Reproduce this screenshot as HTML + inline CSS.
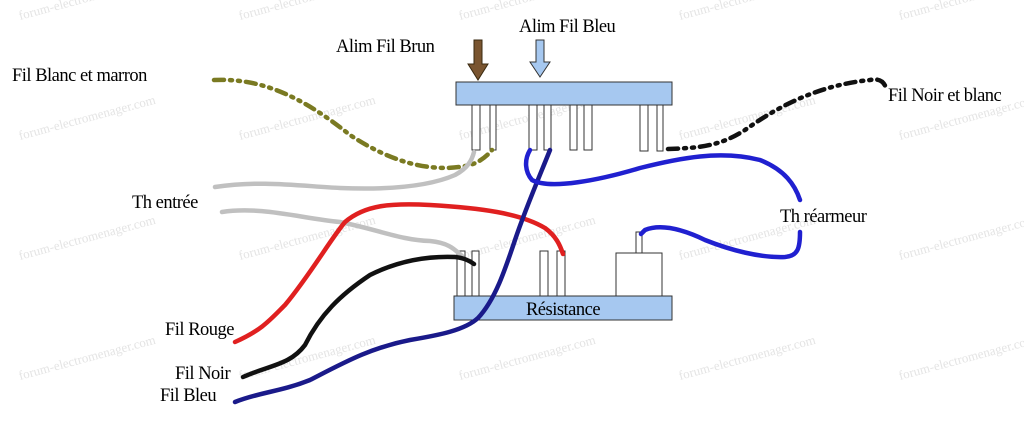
<!DOCTYPE html>
<html><head><meta charset="utf-8"><style>
html,body{margin:0;padding:0;background:#fff;}
svg{display:block}
text{font-family:"Liberation Serif",serif;}
.wm{font-family:"Liberation Sans",sans-serif;font-size:13px;fill:#e4e4e4;}
.lb{font-size:18.5px;fill:#000;letter-spacing:-0.5px}
</style></head><body>
<svg width="1024" height="425" viewBox="0 0 1024 425" xmlns="http://www.w3.org/2000/svg">
<g class="wm">
<text transform="translate(20,20) rotate(-15)">forum-electromenager.com</text>
<text transform="translate(240,20) rotate(-15)">forum-electromenager.com</text>
<text transform="translate(460,20) rotate(-15)">forum-electromenager.com</text>
<text transform="translate(680,20) rotate(-15)">forum-electromenager.com</text>
<text transform="translate(900,20) rotate(-15)">forum-electromenager.com</text>
<text transform="translate(20,140) rotate(-15)">forum-electromenager.com</text>
<text transform="translate(240,140) rotate(-15)">forum-electromenager.com</text>
<text transform="translate(460,140) rotate(-15)">forum-electromenager.com</text>
<text transform="translate(680,140) rotate(-15)">forum-electromenager.com</text>
<text transform="translate(900,140) rotate(-15)">forum-electromenager.com</text>
<text transform="translate(20,260) rotate(-15)">forum-electromenager.com</text>
<text transform="translate(240,260) rotate(-15)">forum-electromenager.com</text>
<text transform="translate(460,260) rotate(-15)">forum-electromenager.com</text>
<text transform="translate(680,260) rotate(-15)">forum-electromenager.com</text>
<text transform="translate(900,260) rotate(-15)">forum-electromenager.com</text>
<text transform="translate(20,380) rotate(-15)">forum-electromenager.com</text>
<text transform="translate(240,380) rotate(-15)">forum-electromenager.com</text>
<text transform="translate(460,380) rotate(-15)">forum-electromenager.com</text>
<text transform="translate(680,380) rotate(-15)">forum-electromenager.com</text>
<text transform="translate(900,380) rotate(-15)">forum-electromenager.com</text>
</g>
<rect x="456" y="82" width="216" height="23" fill="#a6c8f0" stroke="#333" stroke-width="1"/>
<g fill="#fff" stroke="#333" stroke-width="1">
<rect x="472" y="105" width="8" height="45"/><rect x="490" y="105" width="6" height="45"/>
<rect x="529" y="105" width="8" height="45"/><rect x="544" y="105" width="7" height="45"/>
<rect x="570" y="105" width="7" height="45"/><rect x="584" y="105" width="8" height="45"/>
<rect x="640" y="105" width="8" height="46"/><rect x="657" y="105" width="6" height="46"/>
</g>
<path d="M474,40 h8 v24 h6 l-10,16 l-10,-16 h6z" fill="#7a5530" stroke="#3a2a10" stroke-width="1"/>
<path d="M536,40 h8 v22 h6 l-10,15 l-10,-15 h6z" fill="#a6c8f0" stroke="#333" stroke-width="1"/>
<rect x="454" y="296" width="218" height="24" fill="#a6c8f0" stroke="#333" stroke-width="1"/>
<g fill="#fff" stroke="#333" stroke-width="1">
<rect x="457" y="251" width="8" height="45"/><rect x="472" y="251" width="7" height="45"/>
<rect x="540" y="251" width="8" height="45"/><rect x="557" y="251" width="8" height="45"/>
<rect x="616" y="253" width="46" height="43"/><rect x="636" y="232" width="6" height="21"/>
</g>
<text x="563" y="315" class="lb" text-anchor="middle">Résistance</text>
<g fill="none" stroke-linecap="round" stroke-linejoin="round">
<path d="M214,80 C260,78 300,95 350,135 C400,168 440,172 470,165 C480,162 487,156 492,150" stroke="#7a7a22" stroke-width="4.5" stroke-dasharray="10 6 2 6 2 6"/>
<path d="M668,149 C700,148 720,146 745,130 C780,105 820,85 870,80 C880,78 884,82 886,88" stroke="#111" stroke-width="4.5" stroke-dasharray="10 6 2 6 2 6"/>
<path d="M215,187 C260,180 300,186 340,188 C390,190 430,186 455,175 C468,168 472,160 474,152" stroke="#c0c0c0" stroke-width="4.5"/>
<path d="M222,212 C260,206 300,218 340,222 C380,230 400,240 430,241 C450,243 455,250 462,256" stroke="#c0c0c0" stroke-width="4.5"/>
<path d="M235,342 C262,330 270,320 285,305 C310,275 330,240 345,222 C365,205 390,203 430,205 C480,208 520,213 545,228 C556,236 560,245 563,254" stroke="#e02020" stroke-width="4.5"/>
<path d="M243,377 C270,365 290,365 305,345 C320,315 340,295 370,275 C400,260 430,256 455,257 C465,258 470,261 474,264" stroke="#111" stroke-width="4.5"/>
<path d="M235,402 C260,392 280,392 310,380 C345,362 370,348 410,340 C440,335 465,330 478,318 C495,300 505,270 515,240 C525,210 540,175 550,150" stroke="#1a1a8a" stroke-width="4.5"/>
<path d="M530,150 C524,160 525,172 532,180 C550,190 600,180 640,168 C680,158 720,150 760,160 C785,170 795,185 800,200" stroke="#2020d0" stroke-width="4.5"/>
<path d="M800,232 C800,248 798,256 785,257 C760,258 730,250 705,240 C680,228 660,224 645,230 L641,234" stroke="#2020d0" stroke-width="4.5"/>
</g>
<g class="lb">
<text x="12" y="81">Fil Blanc et marron</text>
<text x="336" y="52">Alim Fil Brun</text>
<text x="519" y="32">Alim Fil Bleu</text>
<text x="888" y="101">Fil Noir et blanc</text>
<text x="132" y="208">Th entrée</text>
<text x="780" y="222">Th réarmeur</text>
<text x="165" y="335">Fil Rouge</text>
<text x="175" y="379">Fil Noir</text>
<text x="160" y="401">Fil Bleu</text>
</g>
</svg>
</body></html>
